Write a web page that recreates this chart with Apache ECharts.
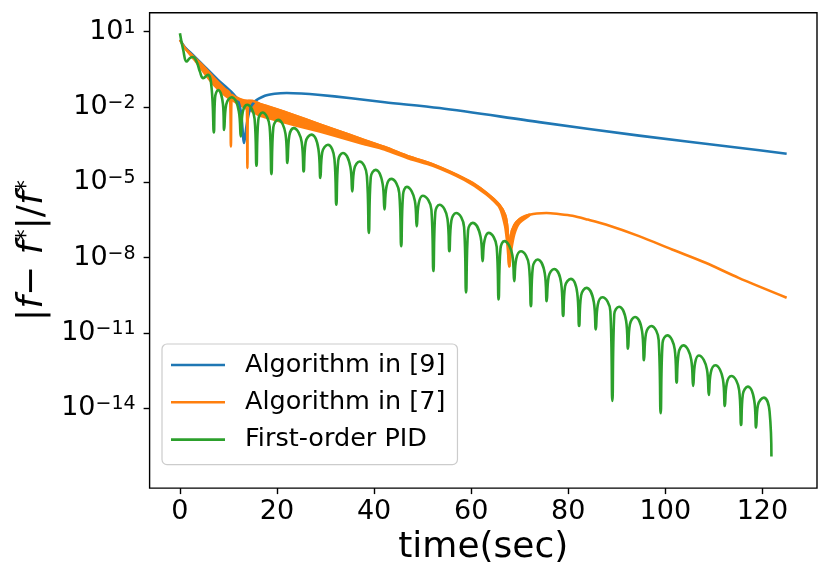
<!DOCTYPE html>
<html>
<head>
<meta charset="UTF-8">
<title>relative error</title>
<script src="https://cdn.jsdelivr.net/npm/echarts@6/dist/echarts.min.js"></script>
<style>
  html, body { margin: 0; padding: 0; background: #fff; }
  #main { width: 830px; height: 571px; }
</style>
</head>
<body>
<div id="main"></div>
<script>
// every value is log10(|f - f*| / f*) as [time, log10]
var algo9 = [
  [0,0.68],[1.03,0.38],[2.67,0.07],[5.14,-0.40],[7.84,-0.92],[10.6,-1.40],[11.9,-1.72],
  [12.6,-2.24],[13.22,-3.43],[13.7,-2.77],[14.4,-2.11],[15.4,-1.78],[17.5,-1.55],[19.5,-1.47],[22.0,-1.44],
  [25.0,-1.46],[28.4,-1.51],[35.3,-1.65],[42.2,-1.81],[53.5,-2.04],[74.0,-2.60],[94.6,-3.14],[115.1,-3.62],[125,-3.86]
];

var algo7 = [
  [0,0.67],[1.03,0.35],[3.0,-0.03],[5.14,-0.44],[7.2,-0.88],[9.25,-1.28],[10.3,-1.46],[10.5,-3.57],
  [10.7,-1.51],[11.3,-1.59],[12.3,-1.71],[13.4,-1.75],[13.75,-1.76],[13.9,-4.43],[14.05,-1.76],
  [15.0,-1.76],[16.45,-1.88],[18.2,-1.98],[21.6,-2.20],[25.7,-2.48],[31.9,-2.90],[37.6,-3.29],
  [42.15,-3.59],[47.3,-3.98],[52.0,-4.28],[58.6,-4.85],[60.3,-5.02],[63.1,-5.41],[65.8,-5.89],
  [67.0,-6.30],[67.5,-6.90],[67.85,-8.34],[68.2,-7.10],[68.9,-6.70],[69.9,-6.48],[70.9,-6.36],[72.0,-6.29],
  [73.5,-6.24],[75.5,-6.22],[78.0,-6.26],[80.86,-6.33],[84.0,-6.48],[87.73,-6.68],[94.58,-7.14],[101.4,-7.67],[108.3,-8.20],
  [115.1,-8.80],[125,-9.59]
];

// the fast oscillation of algo7 shows as a thick band: its upper and lower edge
var bandT  = [1.0,3.0,5.14,7.2,9.25,11.3,13.4,15.0,16.45,21.6,25.7,31.9,37.6,42.15,47.3,52.0,58.6,63.1,65.8,67.0,67.5,67.85,68.2,68.9,69.9,72.0];
var bandHi = [0.35,-0.03,-0.44,-0.88,-1.28,-1.59,-1.75,-1.76,-1.88,-2.20,-2.48,-2.90,-3.29,-3.59,-3.98,-4.28,-4.85,-5.41,-5.89,-6.30,-6.90,-8.34,-7.10,-6.70,-6.48,-6.29];
var bandLo = [0.35,-0.12,-0.67,-1.16,-1.53,-1.79,-2.03,-2.18,-2.34,-2.62,-2.82,-3.14,-3.46,-3.69,-4.06,-4.33,-4.90,-5.47,-5.98,-6.75,-7.55,-8.34,-7.75,-7.05,-6.62,-6.31];

var pid = [
  [0,0.94],[0.68,0.27],[1.38,-0.19],[2.06,-0.05],[2.67,-0.01],[3.43,-0.19],[4.11,-0.59],[4.79,-0.85],
  [5.76,-0.72],[6.52,-1.24],[6.99,-3.01],
  [7.24,-1.62],[7.87,-1.32],[8.86,-1.88],[9.11,-2.91],
  [9.52,-1.91],[10.63,-1.61],[12.13,-2.17],[12.54,-3.17],
  [12.93,-2.21],[13.84,-1.91],[15.38,-2.47],[15.77,-4.34],
  [16.14,-2.52],[17.0,-2.22],[18.48,-2.78],[18.85,-4.67],
  [19.24,-2.81],[20.21,-2.51],[21.75,-3.07],[22.14,-4.23],
  [22.54,-3.14],[23.44,-2.84],[25.09,-3.40],[25.49,-4.56],
  [25.90,-3.40],[27.08,-3.10],[28.52,-3.66],[28.93,-4.82],
  [29.32,-3.80],[30.49,-3.50],[31.83,-4.06],[32.22,-5.89],
  [32.61,-4.13],[33.57,-3.83],[35.12,-4.39],[35.51,-5.36],
  [35.92,-4.47],[37.01,-4.17],[38.51,-4.73],[38.92,-7.01],
  [39.31,-4.80],[40.30,-4.50],[41.76,-5.06],[42.15,-6.08],
  [42.56,-5.16],[43.53,-4.86],[45.18,-5.42],[45.59,-7.54],
  [45.97,-5.48],[46.73,-5.18],[48.41,-5.74],[48.79,-6.75],
  [49.20,-5.83],[50.02,-5.53],[51.81,-6.09],[52.22,-8.53],
  [52.61,-6.19],[53.46,-5.89],[55.12,-6.45],[55.51,-7.74],
  [55.92,-6.52],[56.89,-6.22],[58.54,-6.78],[58.95,-9.38],
  [59.36,-6.91],[60.30,-6.61],[61.95,-7.17],[62.36,-8.14],
  [62.75,-7.31],[63.59,-7.01],[65.26,-7.57],[65.65,-9.66],
  [66.04,-7.64],[66.82,-7.34],[68.49,-7.90],[68.88,-8.93],
  [69.29,-8.04],[70.25,-7.74],[71.90,-8.30],[72.31,-9.93],
  [72.70,-8.37],[73.67,-8.07],[75.17,-8.63],[75.56,-9.73],
  [75.97,-8.75],[77.10,-8.45],[78.54,-9.01],[78.95,-10.32],
  [79.34,-9.14],[80.53,-8.84],[81.85,-9.40],[82.24,-10.72],
  [82.65,-9.50],[83.74,-9.20],[85.27,-9.76],[85.68,-10.85],
  [86.09,-9.87],[87.03,-9.57],[88.68,-10.13],[89.09,-13.70],
  [89.48,-10.25],[90.46,-9.95],[91.92,-10.51],[92.31,-11.62],
  [92.70,-10.66],[93.75,-10.36],[95.21,-10.92],[95.60,-12.08],
  [96.01,-11.02],[97.10,-10.72],[98.63,-11.28],[99.04,-14.19],
  [99.43,-11.39],[100.40,-11.09],[101.94,-11.65],[102.33,-12.97],
  [102.74,-11.79],[103.70,-11.49],[105.33,-12.05],[105.74,-13.10],
  [106.13,-12.19],[106.90,-11.89],[108.58,-12.45],[108.97,-13.46],
  [109.36,-12.58],[110.30,-12.28],[111.87,-12.84],[112.26,-13.90],
  [112.66,-13.01],[113.60,-12.71],[115.21,-13.27],[115.61,-14.66],
  [115.98,-13.43],[117.00,-13.13],[118.33,-13.69],[118.70,-14.76],
  [119.08,-13.87],[120.30,-13.57],[121.48,-14.13],[121.86,-15.91]
];

var xTicks = [0, 20, 40, 60, 80, 100, 120];
var yTickExp = [1, -2, -5, -8, -11, -14];

var FONT = 'DejaVu Sans';
var BLUE = '#1f77b4', ORANGE = '#ff7f0e', GREEN = '#2ca02c';

function lineSeries(name, color, data, smooth) {
    return {
        name: name,
        type: 'line',
        data: data,
        symbol: 'none',
        smooth: smooth,
        color: color,
        lineStyle: { color: color, width: 2.6, join: 'round' },
        animation: false
    };
}

// band of algo7: one closed polygon, upper edge forward then lower edge back
var bandSeries = {
    name: 'band',
    type: 'custom',
    coordinateSystem: 'cartesian2d',
    data: [[bandT[0], bandHi[0]]],
    silent: true,
    animation: false,
    renderItem: function (params, api) {
        var pts = [];
        for (var i = 0; i < bandT.length; i++) pts.push(api.coord([bandT[i], bandHi[i]]));
        for (var j = bandT.length - 1; j >= 0; j--) pts.push(api.coord([bandT[j], bandLo[j]]));
        return {
            type: 'polygon',
            shape: { points: pts, smooth: 0.2 },
            style: { fill: ORANGE, stroke: ORANGE, lineWidth: 2.6, lineJoin: 'round' }
        };
    }
};

var myChart = echarts.init(document.getElementById('main'));
var option = {
    backgroundColor: '#fff',
    animation: false,
    grid: {
        left: 149.6, right: 13, top: 12.7, bottom: 82,
        show: true, borderColor: '#000', borderWidth: 1.4, backgroundColor: 'transparent'
    },
    legend: {
        data: ['Algorithm in [9]', 'Algorithm in [7]', 'First-order PID'],
        orient: 'vertical',
        left: 162, top: 344,
        padding: [8, 12, 12, 9],
        itemGap: 11.3,
        itemWidth: 54, itemHeight: 2.6,
        icon: 'rect',
        selectedMode: false,
        backgroundColor: 'rgba(255,255,255,0.8)',
        borderColor: '#cccccc', borderWidth: 1.2, borderRadius: 5,
        textStyle: { fontFamily: FONT, fontSize: 25.5, color: '#000', lineHeight: 26, padding: [0, 0, 0, 15] }
    },
    xAxis: {
        type: 'value',
        min: -6.25, max: 131.25,
        name: 'time(sec)',
        nameLocation: 'middle',
        nameGap: 27,
        nameTextStyle: { fontFamily: FONT, fontSize: 36, color: '#000' },
        axisLine: { show: false, onZero: false },
        splitLine: { show: false },
        axisTick: { show: true, customValues: xTicks, length: 6, lineStyle: { color: '#000', width: 1.4 } },
        axisLabel: { customValues: xTicks, fontFamily: FONT, fontSize: 27, color: '#000', margin: 10 }
    },
    yAxis: {
        type: 'value',
        min: -17.17, max: 1.755,
        name: '|{i|f}− {i|f}{s|*}|/{i|f}{s|*}',
        nameLocation: 'middle',
        nameRotate: 90,
        nameGap: 94,
        nameTextStyle: {
            fontFamily: FONT, fontSize: 36, color: '#000',
            rich: {
                i: { fontFamily: FONT, fontSize: 36, fontStyle: 'italic', color: '#000' },
                s: { fontFamily: FONT, fontSize: 25, color: '#000', verticalAlign: 'top', lineHeight: 18 }
            }
        },
        axisLine: { show: false, onZero: false },
        splitLine: { show: false },
        axisTick: { show: true, customValues: yTickExp, length: 6, lineStyle: { color: '#000', width: 1.4 } },
        axisLabel: {
            customValues: yTickExp,
            margin: 14,
            formatter: function (v) {
                var e = Math.round(v);
                return '{b|10}{e|' + (e < 0 ? '\u2212' + (-e) : e) + '}';
            },
            rich: {
                b: { fontFamily: FONT, fontSize: 27, color: '#000', lineHeight: 27 },
                e: { fontFamily: FONT, fontSize: 19, color: '#000', verticalAlign: 'top', lineHeight: 16 }
            }
        }
    },
    series: [
        lineSeries('Algorithm in [9]', BLUE, algo9, 0.3),
        bandSeries,
        lineSeries('Algorithm in [7]', ORANGE, algo7, 0.3),
        lineSeries('First-order PID', GREEN, pid, 0.45)
    ]
};
myChart.setOption(option);
</script>
</body>
</html>
